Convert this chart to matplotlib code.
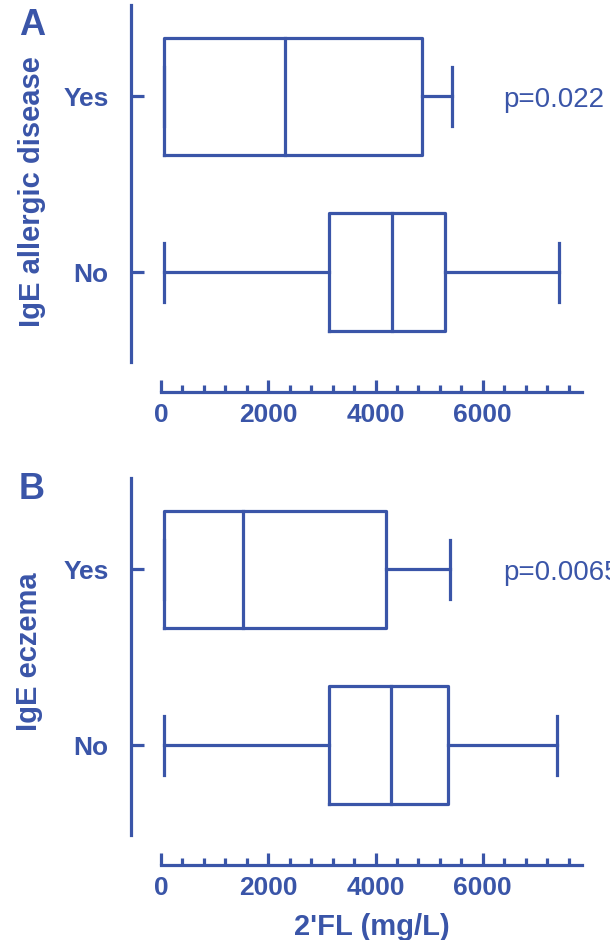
import matplotlib
matplotlib.use("Agg")
import matplotlib.pyplot as plt
from matplotlib.ticker import MultipleLocator

plt.rcParams["font.family"] = ["Liberation Sans", "DejaVu Sans"]

azul = "#3a55a8"

# categorias (de baixo para cima)
grupos = ["No", "Yes"]

# painel A - IgE allergic disease (No, Yes)
a_min = [50, 50]
a_q1 = [3130, 50]
a_med = [4310, 2310]
a_q3 = [5300, 4870]
a_max = [7420, 5430]

# painel B - IgE eczema (No, Yes)
b_min = [50, 50]
b_q1 = [3130, 50]
b_med = [4280, 1530]
b_q3 = [5360, 4200]
b_max = [7390, 5380]

paineis = [
    ("A", "IgE allergic disease", "p=0.022", a_min, a_q1, a_med, a_q3, a_max),
    ("B", "IgE eczema", "p=0.0065", b_min, b_q1, b_med, b_q3, b_max),
]

fig = plt.figure(figsize=(6.1, 9.4), dpi=100)
W, H = 610, 940

# posicoes dos eixos em pixels: (esquerda, topo, direita, base)
caixas = [(161, 5, 582, 362), (161, 478, 582, 835)]
letras_y = [8, 472]
ylabel_pos = [(32, 192), (29, 652)]

for i, (letra, rotulo, pval, mn, q1, md, q3, mx) in enumerate(paineis):
    l, t, r, b = caixas[i]
    ax = fig.add_axes([l / W, 1 - b / H, (r - l) / W, (b - t) / H])

    stats = []
    for j in range(len(grupos)):
        stats.append({"whislo": mn[j], "q1": q1[j], "med": md[j], "q3": q3[j],
                      "whishi": mx[j], "label": grupos[j]})

    estilo = dict(color=azul, linewidth=2.3, solid_capstyle="projecting")
    ax.bxp(stats, positions=[1, 2], widths=0.67, vert=False, showfliers=False,
           boxprops=estilo, medianprops=estilo, whiskerprops=estilo, capprops=estilo)

    ax.set_xlim(0, 7850)
    ax.set_ylim(0.49, 2.52)
    ax.set_yticks([1, 2])
    ax.set_yticklabels(grupos)
    ax.xaxis.set_major_locator(MultipleLocator(2000))
    ax.xaxis.set_minor_locator(MultipleLocator(400))

    for lado in ["top", "right"]:
        ax.spines[lado].set_visible(False)
    for lado in ["left", "bottom"]:
        ax.spines[lado].set_position(("outward", 21.6))
        ax.spines[lado].set_color(azul)
        ax.spines[lado].set_linewidth(2.3)

    ax.tick_params(axis="y", direction="in", length=9, width=2.3, color=azul,
                   labelcolor=azul, labelsize=19, pad=16)
    ax.tick_params(axis="x", which="major", direction="in", length=9, width=2.3,
                   color=azul, labelcolor=azul, labelsize=19, pad=8)
    ax.tick_params(axis="x", which="minor", direction="in", length=5, width=2.3,
                   color=azul)
    for lab in ax.get_xticklabels() + ax.get_yticklabels():
        lab.set_fontweight("bold")

    ax.text(6377, 1.98, pval, color=azul, fontsize=20, va="center", ha="left",
            clip_on=False)

    fig.text(19 / W, 1 - letras_y[i] / H, letra, color=azul, fontsize=26,
             fontweight="bold", ha="left", va="top")
    x0, y0 = ylabel_pos[i]
    fig.text(x0 / W, 1 - y0 / H, rotulo, color=azul, fontsize=21, fontweight="bold",
             rotation=90, ha="center", va="center")

    if i == 1:
        ax.set_xlabel("2'FL (mg/L)", color=azul, fontsize=21, fontweight="bold",
                      labelpad=9)

fig.savefig("out.png", dpi=100)
